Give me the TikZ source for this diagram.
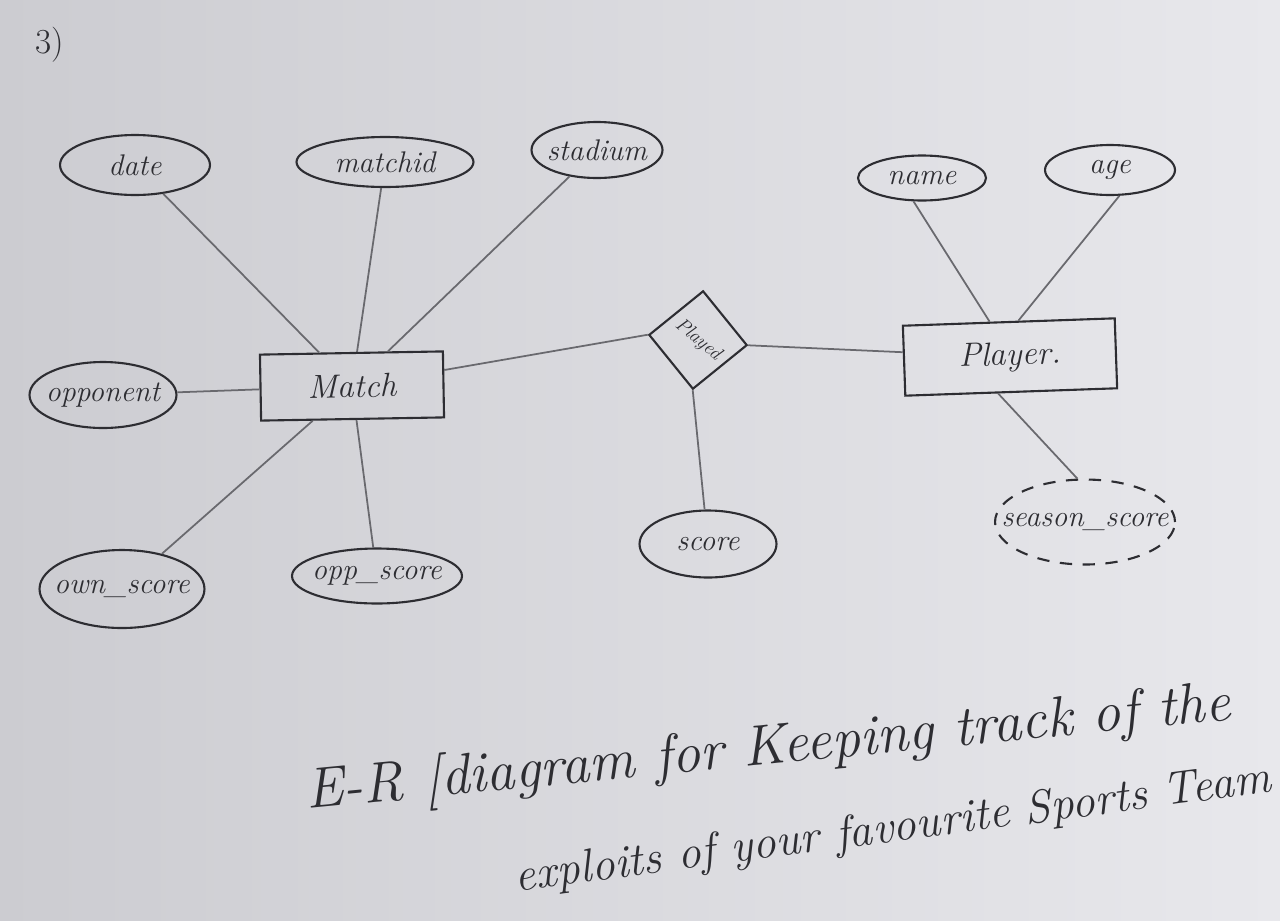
\documentclass[tikz,border=0pt]{standalone}
\usepackage{tikz}
\usetikzlibrary{shapes.geometric,positioning}
\definecolor{paper}{RGB}{232,232,236}
\definecolor{paperdark}{RGB}{204,204,209}
\definecolor{ink}{RGB}{45,45,50}
\definecolor{pencil}{RGB}{105,105,110}
\newcommand{\handfont}{\fontsize{17}{20}\selectfont\itshape}

\tikzset{
  attr/.style = {ellipse, draw=ink, line width=1.2pt, inner xsep=-1cm,
                 inner ysep=0pt, text=ink, font=\handfont},
  derived/.style = {attr, dash pattern=on 7pt off 6pt},
  entity/.style = {rectangle, draw=ink, line width=1.2pt, text=ink,
                   font=\fontsize{19}{22}\selectfont\itshape},
  rel/.style = {diamond, draw=ink, line width=1.2pt, inner sep=0pt,
                text=ink, font=\fontsize{11}{13}\selectfont\itshape},
  link/.style = {draw=pencil, line width=1pt},
  heading/.style = {text=ink, font=\fontsize{32.5}{38}\selectfont\itshape}
}

\begin{document}
\begin{tikzpicture}[x=0.02cm, y=-0.02cm]
  % paper
  \shade[left color=paperdark, right color=paper] (0,0) rectangle (1280,920);
  \useasboundingbox (0,0) rectangle (1280,920);

  \node[text=ink, font=\fontsize{20}{24}\selectfont] (num) at (50,45) {3)};

  % entities and relationship
  \node[entity, minimum width=3.66cm, minimum height=1.32cm, rotate=1] (Match) at (352,386) {Match};
  \node[entity, minimum width=4.24cm, minimum height=1.4cm, rotate=2] (Player) at (1010,357) {Player.};
  \node[rel, minimum width=1.6cm, minimum height=1.55cm, rotate=-6] (Played) at (698,340) {\rotatebox{-34}{Played}};

  % attributes of Match
  \node[attr, minimum width=3.0cm, minimum height=1.2cm] (date) at (135,165) {date};
  \node[attr, minimum width=3.54cm, minimum height=1.0cm] (matchid) at (385,162) {matchid};
  \node[attr, minimum width=2.62cm, minimum height=1.12cm] (stadium) at (597,150) {stadium};
  \node[attr, minimum width=2.94cm, minimum height=1.32cm] (opponent) at (103,395) {opponent};
  \node[attr, minimum width=3.3cm, minimum height=1.56cm] (ownscore) at (122,589) {own\_score};
  \node[attr, minimum width=3.4cm, minimum height=1.1cm] (oppscore) at (377,576) {opp\_score};

  % attributes of Player and Played
  \node[attr, minimum width=2.56cm, minimum height=0.9cm] (name) at (922,178) {name};
  \node[attr, minimum width=2.6cm, minimum height=1.0cm] (age) at (1110,170) {age};
  \node[attr, minimum width=2.74cm, minimum height=1.34cm] (score) at (708,544) {score};
  \node[derived, minimum width=3.6cm, minimum height=1.7cm] (season) at (1085,522) {season\_score};

  \draw[link] (date) to (Match);
  \draw[link] (matchid) to (Match);
  \draw[link] (stadium) to (Match);
  \draw[link] (opponent) to (Match);
  \draw[link] (ownscore) to (Match);
  \draw[link] (oppscore) to (Match);
  \draw[link] (Match) to (Played.west);
  \draw[link] (Played.east) to (Player);
  \draw[link] (Played.south) to (score);
  \draw[link] (name.250) to (Player.118);
  \draw[link] (age.290) to (Player.75);
  \draw[link] (Player.250) to (season.100);

  % caption
  \node[heading, rotate=5.5] (title1) at (768,750) {E-R [diagram for Keeping track of the};
  \node[heading, font=\fontsize{26.5}{32}\selectfont\itshape, rotate=7.5] (title2) at (893,830) {exploits of your favourite Sports Team};
\end{tikzpicture}
\end{document}
